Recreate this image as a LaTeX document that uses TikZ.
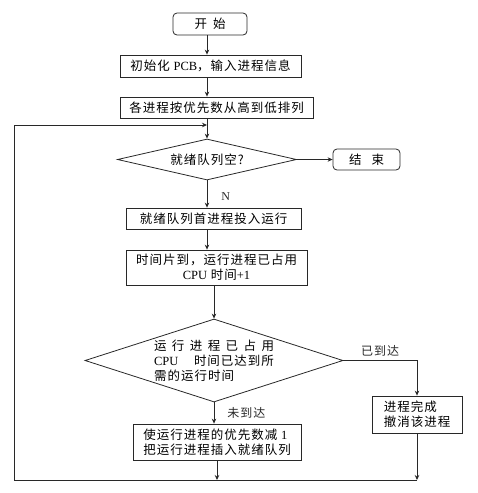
\documentclass[tikz,border=0pt]{standalone}
\usepackage{fontspec}
\setmainfont[LetterSpace=8]{Noto Sans CJK SC}
\newfontfamily\latinrm{Liberation Serif}
\usetikzlibrary{arrows.meta,positioning,shapes.geometric}
\definecolor{ink}{RGB}{40,40,40}
\tikzset{
  proc/.style={draw=ink,line width=0.8pt,minimum height=21pt,inner sep=2pt,align=center},
  term/.style={proc,rounded corners=4pt},
  cond/.style={diamond,draw=ink,line width=0.8pt,inner sep=0pt,align=left},
  arr/.style={-{Stealth[length=5pt,width=4.5pt]},line width=0.8pt,ink},
  flow/.style={line width=0.8pt,ink},
  lbl/.style={font=\fontsize{12}{14}\selectfont,inner sep=1pt},
}
\newcommand{\lt}[1]{{\latinrm #1}}

\begin{document}
\begin{tikzpicture}[x=1pt,y=-1pt,font=\fontsize{12.5}{15}\selectfont]
\useasboundingbox (0,0) rectangle (478,493);
% main column
\node[term,minimum width=74pt,minimum height=22pt] (start) at (210,24) {开\hspace{6pt}始};
\node[proc,minimum width=181pt,minimum height=22pt] (init) at (210.5,66) {初始化 \lt{PCB}，输入进程信息};
\node[proc,minimum width=193pt] (sort) at (216.5,107.5) {各进程按优先数从高到低排列};
\coordinate (merge) at (207,125);
\node[cond,aspect=4.4,minimum width=179pt,minimum height=41pt] (empty) at (207,159.5) {就绪队列空?};
\node[term,minimum width=67pt] (stop) at (366.5,159.5) {结\hspace{10pt}束};
\node[proc,minimum width=175pt] (run) at (213.5,218.5) {就绪队列首进程投入运行};
\node[proc,minimum width=181pt,minimum height=35pt] (tick) at (216.5,267.5)
  {时间片到，运行进程已占用\\\lt{CPU} 时间\lt{+1}};
\node[cond,aspect=3.1,minimum width=258pt,minimum height=83pt] (reach) at (214,360.5)
  {\makebox[120pt][s]{运 行 进 程 已 占 用}\\
   \makebox[120pt][s]{\lt{CPU} 时间已达到所}\\
   需的运行时间};
\node[proc,minimum width=90pt,minimum height=37pt,align=left] (done) at (417,414.5)
  {进程完成\\撤消该进程};
\node[proc,minimum width=168pt,minimum height=36pt,align=left] (dec) at (217,442)
  {使运行进程的优先数减 \lt{1}\\把运行进程插入就绪队列};
\coordinate (bot) at (14,480);
% connectors
\draw[arr] (start.south -| merge) -- (init.north -| merge);
\draw[arr] (init.south -| merge) -- (sort.north -| merge);
\draw[flow] (sort.south -| merge) -- (merge);
\draw[arr] (merge) -- (empty.north);
\draw[arr] (empty.east) -- (stop.west);
\draw[arr] (empty.south) -- node[lbl,pos=0.6,right=13pt]{\lt{N}} (run.north -| empty.south);
\draw[arr] (run.south -| merge) -- (tick.north -| merge);
\draw[arr] (tick.south -| reach.north) -- (reach.north);
\draw[arr] (reach.east) -| node[lbl,pos=0.25,above=3pt]{已到达} (done.north);
\draw[arr] (reach.south) -- node[lbl,right=12pt]{未到达} (dec.north -| reach.south);
\draw[arr] (dec.south) -- (dec.south |- bot);
\draw[arr] (done.south) -- (done.south |- bot);
% loop back
\draw[arr] (done.south |- bot) -- (bot) |- (merge);
\end{tikzpicture}
\end{document}
